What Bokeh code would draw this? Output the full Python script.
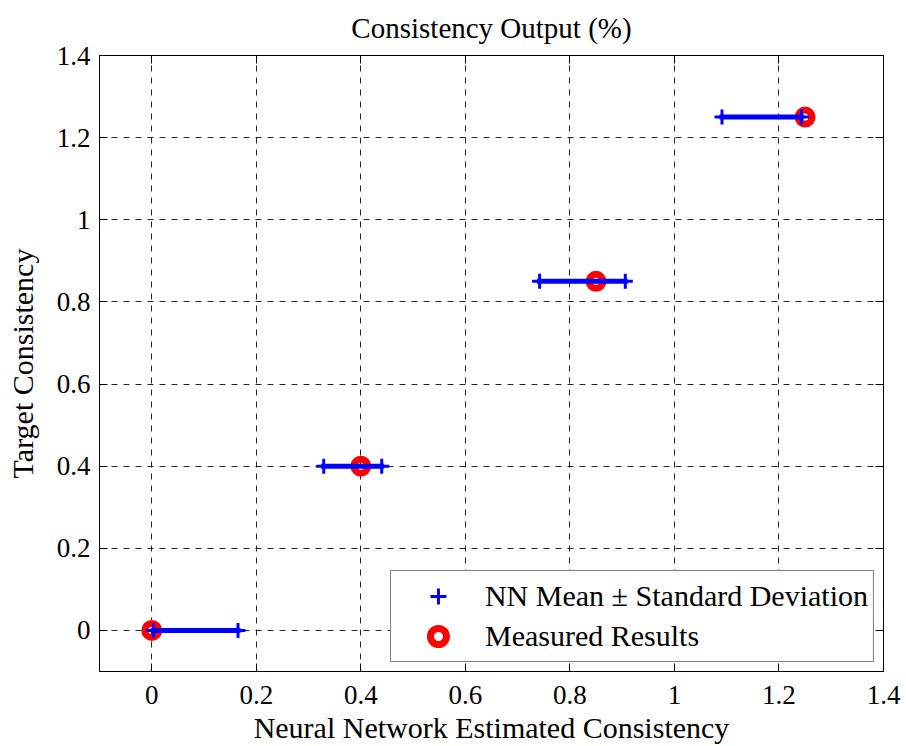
from bokeh.plotting import figure
from bokeh.models import (Range1d, FixedTicker, CustomJSTickFormatter, LinearAxis,
                          Legend, LegendItem, ColumnDataSource)
from bokeh.embed import file_html
from bokeh.resources import INLINE

# ---- data ----
target = [0.0, 0.4, 0.85, 1.25]          # target consistency (y)
measured = [0.0, 0.4, 0.85, 1.25]        # measured results (x)
nn_low = [0.003, 0.329, 0.742, 1.091]    # NN mean - std
nn_high = [0.165, 0.440, 0.906, 1.243]   # NN mean + std
x_ticks = [0, 0.2, 0.4, 0.6, 0.8, 1.0, 1.2, 1.4]
y_ticks = [0, 0.2, 0.4, 0.6, 0.8, 1.0, 1.2, 1.4]

FONT = "Liberation Serif"

p = figure(width=906, height=746, output_backend="svg", toolbar_location=None,
           x_range=Range1d(-0.1, 1.4), y_range=Range1d(-0.1, 1.4),
           min_border_left=99, min_border_right=23, min_border_top=55, min_border_bottom=75)
p.background_fill_color = "white"
p.border_fill_color = "white"
p.outline_line_color = "black"
p.outline_line_width = 1

p.title.text = "Consistency Output (%)"
p.title.align = "center"
p.title.vertical_align = "top"
p.title.text_font = FONT
p.title.text_font_size = "29px"
p.title.text_font_style = "normal"
p.title.text_color = "black"
p.title.standoff = 20

fmt = CustomJSTickFormatter(code="return String(Math.round(tick*10)/10)")

for ax, ticks in ((p.xaxis[0], x_ticks), (p.yaxis[0], y_ticks)):
    ax.ticker = FixedTicker(ticks=ticks)
    ax.formatter = fmt
    ax.major_tick_in = 8
    ax.major_tick_out = 0
    ax.minor_tick_in = 0
    ax.minor_tick_out = 0
    ax.axis_line_color = "black"
    ax.major_tick_line_color = "black"
    ax.major_label_text_font = FONT
    ax.major_label_text_font_size = "27px"
    ax.major_label_text_color = "black"
    ax.axis_label_text_font = FONT
    ax.axis_label_text_font_size = "30px"
    ax.axis_label_text_font_style = "normal"
    ax.axis_label_text_color = "black"

p.xaxis.axis_label = "Neural Network Estimated Consistency"
p.yaxis.axis_label = "Target Consistency"
p.xaxis.major_label_standoff = 14
p.yaxis.major_label_standoff = 9
p.xaxis.axis_label_standoff = 4
p.yaxis.axis_label_standoff = 15

# mirrored axes (box ticks) on top and right, without labels
blank = CustomJSTickFormatter(code="return ''")
for loc, ticks in (("above", x_ticks), ("right", y_ticks)):
    a = LinearAxis(ticker=FixedTicker(ticks=ticks), formatter=blank,
                   major_tick_in=8, major_tick_out=0,
                   minor_tick_in=0, minor_tick_out=0,
                   major_label_text_font_size="1px",
                   major_label_standoff=0, axis_line_color="black")
    p.add_layout(a, loc)

p.xgrid.ticker = FixedTicker(ticks=x_ticks)
p.ygrid.ticker = FixedTicker(ticks=y_ticks)
for g in (p.xgrid[0], p.ygrid[0]):
    g.grid_line_color = "black"
    g.grid_line_dash = "6 6"
    g.grid_line_width = 1
    g.grid_line_alpha = 0.85

# data sources
src_bar = ColumnDataSource(dict(x0=nn_low, x1=nn_high, y=target))
src_plus = ColumnDataSource(dict(x=nn_low + nn_high, y=target + target))
src_meas = ColumnDataSource(dict(x=measured, y=target))

r_meas = p.scatter("x", "y", source=src_meas, marker="circle", size=14,
                   fill_color=None, line_color="#FF0000", line_width=7)
p.segment("x0", "y", "x1", "y", source=src_bar, line_color="#0000FF",
          line_width=5, line_cap="square")
r_plus = p.scatter("x", "y", source=src_plus, marker="cross", size=15,
                   line_color="#0000FF", line_width=3)

legend = Legend(items=[LegendItem(label="NN Mean \u00b1 Standard Deviation", renderers=[r_plus]),
                       LegendItem(label="Measured Results", renderers=[r_meas])],
                location="bottom_right")
legend.label_text_font = FONT
legend.label_text_font_size = "30px"
legend.label_text_color = "black"
legend.border_line_color = "black"
legend.border_line_width = 1
legend.background_fill_alpha = 1
legend.glyph_width = 84
legend.glyph_height = 40
legend.label_height = 40
legend.label_standoff = 5
legend.spacing = 0
legend.padding = 5
legend.margin = 9
p.add_layout(legend)

open("out.html", "w").write(file_html(p, INLINE))
